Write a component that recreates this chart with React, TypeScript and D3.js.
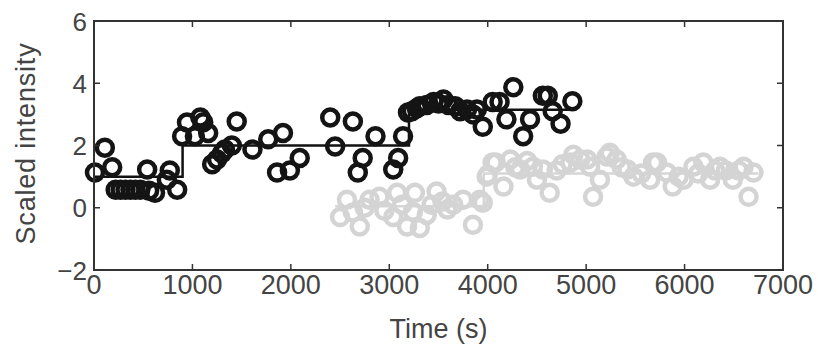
import React from "react";
import * as d3 from "d3";

// Trace 1 (black): time in seconds and scaled intensity
const blackTime = [10, 110, 185, 220, 270, 320, 370, 420, 470, 540, 560, 620, 740, 770, 845, 895, 945, 1025, 1080, 1110, 1160, 1200, 1250, 1300, 1330, 1400, 1450, 1610, 1770, 1860, 1920, 1990, 2090, 2400, 2450, 2630, 2680, 2730, 2860, 3040, 3090, 3140, 3190, 3230, 3280, 3310, 3380, 3450, 3500, 3550, 3600, 3670, 3720, 3790, 3850, 3890, 3950, 4050, 4120, 4190, 4260, 4360, 4430, 4560, 4610, 4660, 4740, 4860];
const blackValue = [1.13, 1.93, 1.3, 0.58, 0.58, 0.58, 0.58, 0.58, 0.58, 1.23, 0.55, 0.48, 0.9, 1.2, 0.58, 2.3, 2.74, 2.3, 2.9, 2.75, 2.4, 1.4, 1.55, 1.75, 1.87, 2.0, 2.77, 1.87, 2.2, 1.13, 2.4, 1.2, 1.6, 2.9, 1.97, 2.77, 1.13, 1.6, 2.3, 1.23, 1.6, 2.3, 3.06, 3.1, 3.2, 3.26, 3.3, 3.4, 3.35, 3.48, 3.3, 3.26, 3.1, 3.16, 3.0, 3.16, 2.6, 3.4, 3.4, 2.84, 3.87, 2.3, 2.84, 3.6, 3.6, 3.1, 2.7, 3.42];

// Trace 2 (grey)
const grayTime = [2500, 2570, 2630, 2700, 2750, 2800, 2900, 2950, 3040, 3080, 3130, 3180, 3240, 3260, 3310, 3380, 3430, 3480, 3540, 3590, 3650, 3750, 3850, 3920, 3950, 3990, 4000, 4050, 4080, 4160, 4230, 4280, 4330, 4400, 4460, 4500, 4560, 4630, 4700, 4760, 4840, 4870, 4940, 5010, 5040, 5070, 5140, 5210, 5240, 5310, 5360, 5420, 5480, 5560, 5650, 5680, 5720, 5820, 5880, 5940, 5990, 6090, 6140, 6190, 6260, 6310, 6360, 6420, 6490, 6550, 6600, 6650, 6700];
const grayValue = [-0.3, 0.26, -0.15, -0.6, 0.0, 0.26, 0.35, -0.1, -0.3, 0.48, 0.1, -0.6, -0.13, 0.48, -0.65, -0.23, 0.1, 0.52, 0.2, -0.06, 0.1, 0.26, -0.55, 0.26, 0.16, 1.0, 1.06, 1.45, 1.45, 0.68, 1.55, 1.3, 1.23, 1.5, 1.32, 0.9, 1.23, 0.48, 1.2, 1.4, 1.45, 1.7, 1.55, 1.55, 1.32, 0.35, 0.9, 1.65, 1.77, 1.55, 1.3, 1.23, 1.0, 1.1, 0.9, 1.45, 1.45, 1.13, 0.68, 1.0, 0.9, 1.32, 1.1, 1.45, 0.9, 1.2, 1.32, 1.2, 0.9, 1.2, 1.32, 0.35, 1.13];

// Step fits (breakpoints and levels)
const blackStepTime = [0, 900, 3200, 4900];
const blackStepLevel = [1.0, 2.0, 3.15];
const grayStepTime = [2450, 3960, 6750];
const grayStepLevel = [0.05, 1.1];

const xTicks = [0, 1000, 2000, 3000, 4000, 5000, 6000, 7000];
const yTicks = [-2, 0, 2, 4, 6];

const W = 818;
const H = 346;
const plot = { left: 94, right: 783, top: 21, bottom: 270 };
const FONT = "'Liberation Sans', Arial, Helvetica, sans-serif";

function stepPoints(times: number[], levels: number[]): [number, number][] {
  const pts: [number, number][] = [];
  levels.forEach((lv, i) => {
    pts.push([times[i], lv]);
    pts.push([times[i + 1], lv]);
  });
  return pts;
}

export default function App() {
  const x = d3.scaleLinear().domain([0, 7000]).range([plot.left, plot.right]);
  const y = d3.scaleLinear().domain([-2, 6]).range([plot.bottom, plot.top]);
  const line = d3
    .line<[number, number]>()
    .x((d) => x(d[0]))
    .y((d) => y(d[1]));

  const tickLen = 6;
  const axisColor = "#333";
  const textColor = "#444";

  return (
    <svg
      width={W}
      height={H}
      style={{ position: "absolute", left: 0, top: 0, background: "#fff" }}
    >
      {/* grey trace */}
      <path
        d={line(stepPoints(grayStepTime, grayStepLevel)) || ""}
        fill="none"
        stroke="#d6d6d6"
        strokeWidth={2.5}
      />
      {grayTime.map((t, i) => (
        <circle
          key={"g" + i}
          cx={x(t)}
          cy={y(grayValue[i])}
          r={8}
          fill="none"
          stroke="#d4d4d4"
          strokeWidth={4.5}
        />
      ))}

      {/* black trace */}
      <path
        d={line(stepPoints(blackStepTime, blackStepLevel)) || ""}
        fill="none"
        stroke="#111"
        strokeWidth={2.5}
      />
      {blackTime.map((t, i) => (
        <circle
          key={"b" + i}
          cx={x(t)}
          cy={y(blackValue[i])}
          r={8}
          fill="none"
          stroke="#141414"
          strokeWidth={4.5}
        />
      ))}

      {/* axes box */}
      <rect
        x={plot.left}
        y={plot.top}
        width={plot.right - plot.left}
        height={plot.bottom - plot.top}
        fill="none"
        stroke={axisColor}
        strokeWidth={2}
      />
      {xTicks.map((t) => (
        <g key={"xt" + t}>
          <line x1={x(t)} x2={x(t)} y1={plot.bottom} y2={plot.bottom - tickLen} stroke={axisColor} strokeWidth={1.5} />
          <line x1={x(t)} x2={x(t)} y1={plot.top} y2={plot.top + tickLen} stroke={axisColor} strokeWidth={1.5} />
          <text
            x={x(t)}
            y={294}
            textAnchor="middle"
            fontFamily={FONT}
            fontSize={27}
            fill={textColor}
          >
            {t}
          </text>
        </g>
      ))}
      {yTicks.map((v) => (
        <g key={"yt" + v}>
          <line x1={plot.left} x2={plot.left + tickLen} y1={y(v)} y2={y(v)} stroke={axisColor} strokeWidth={1.5} />
          <line x1={plot.right} x2={plot.right - tickLen} y1={y(v)} y2={y(v)} stroke={axisColor} strokeWidth={1.5} />
          <text
            x={87}
            y={y(v) + 9.5}
            textAnchor="end"
            fontFamily={FONT}
            fontSize={26}
            fill={textColor}
          >
            {v < 0 ? "\u2212" + Math.abs(v) : v}
          </text>
        </g>
      ))}

      {/* axis labels */}
      <text
        x={(plot.left + plot.right) / 2}
        y={338}
        textAnchor="middle"
        fontFamily={FONT}
        fontSize={27}
        fill={textColor}
      >
        Time (s)
      </text>
      <text
        transform={`translate(35, ${(plot.top + plot.bottom) / 2 - 2}) rotate(-90)`}
        textAnchor="middle"
        fontFamily={FONT}
        fontSize={27}
        fill={textColor}
        letterSpacing={0.8}
      >
        Scaled intensity
      </text>
    </svg>
  );
}
